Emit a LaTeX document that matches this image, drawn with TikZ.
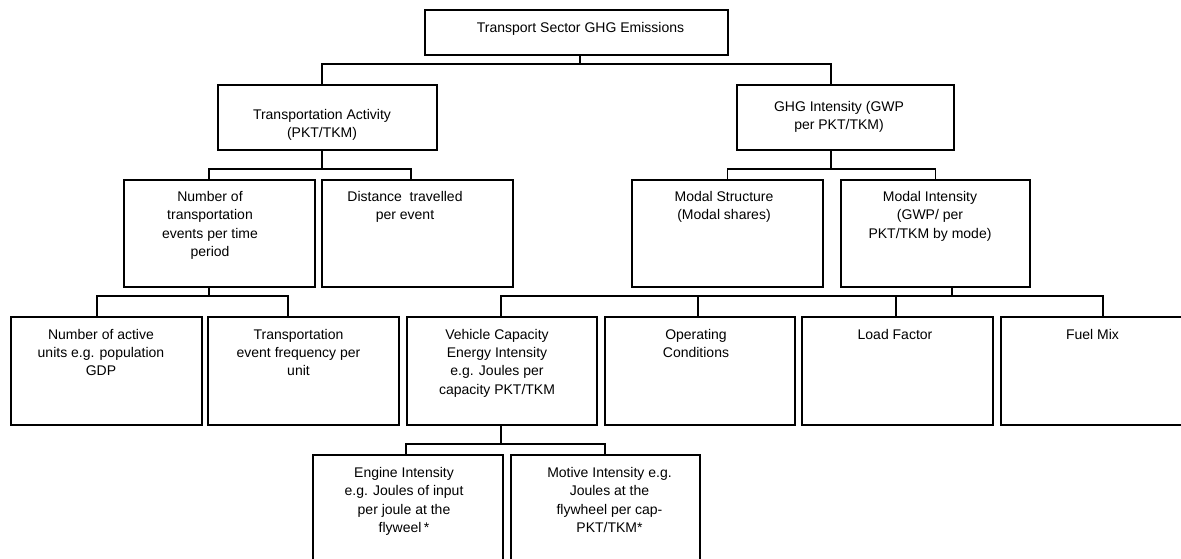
\documentclass[tikz,border=0pt]{standalone}
\usepackage{fontspec}
\setmainfont{Liberation Sans}
\newcommand\mkbox[5]{\node[box, minimum width=#4pt, minimum height=#5pt] (#1) at (#2,#3) {};}
\begin{document}
\begin{tikzpicture}[x=1pt,y=-1pt,
  box/.style={draw, line width=1.5pt, rectangle, inner sep=0pt, outer sep=0pt},
  txt/.style={anchor=north, inner sep=0pt, outer sep=0pt, align=center, font=\fontsize{14}{18.3}\selectfont},
  conn/.style={line width=1.5pt}]
\useasboundingbox (0,0) rectangle (1181,558);
% boxes
\mkbox{top}{576.5}{32.5}{303}{45}
\mkbox{ta}{327.5}{117.5}{219}{65}
\mkbox{ghg}{845.5}{117.5}{217}{65}
\mkbox{num}{219.5}{233.5}{191}{107}
\mkbox{dist}{417.5}{233.5}{191}{107}
\mkbox{ms}{727.5}{233.5}{191}{107}
\mkbox{mi}{935.5}{233.5}{189}{107}
\mkbox{na}{106.5}{371}{191}{108}
\mkbox{tf}{303.5}{371}{191}{108}
\mkbox{vc}{502}{371}{190}{108}
\mkbox{oc}{700}{371}{190}{108}
\mkbox{lf}{897.5}{371}{191}{108}
\mkbox{fm}{1096.5}{371}{191}{108}
\mkbox{ei}{408}{527.5}{190}{145}
\mkbox{mo}{605.5}{527.5}{189}{145}
% texts
\node[txt] (t-top) at (580.5,22) {Transport Sector GHG Emissions};
\node[txt] (t-ta) at (322,109.5) {Transportation Activity\\(PKT/TKM)};
\node[txt] (t-ghg) at (839,101.5) {GHG Intensity (GWP\\per PKT/TKM)};
\node[txt] (t-num) at (210,191.5) {Number of\\transportation\\events per time\\period};
\node[txt] (t-dist) at (405,191.5) {Distance\ \ travelled\\per event};
\node[txt] (t-ms) at (724,191.5) {Modal Structure\\(Modal shares)};
\node[txt] (t-mi) at (930,191.5) {Modal Intensity\\(GWP/ per\\PKT/TKM by mode)};
\node[txt] (t-na) at (101,329) {Number of active\\units e.g. population\\GDP};
\node[txt] (t-tf) at (298.5,329) {Transportation\\event frequency per\\unit};
\node[txt] (t-vc) at (497,329) {Vehicle Capacity\\Energy Intensity\\e.g. Joules per\\capacity PKT/TKM};
\node[txt] (t-oc) at (696,329) {Operating\\Conditions};
\node[txt] (t-lf) at (895,329) {Load Factor};
\node[txt] (t-fm) at (1092.5,329) {Fuel Mix};
\node[txt] (t-ei) at (404,467.5) {Engine Intensity\\e.g. Joules of input\\per joule at the\\flyweel\,*};
\node[txt] (t-mo) at (609.5,467.5) {Motive Intensity e.g.\\Joules at the\\flywheel per cap-\\PKT/TKM*};
% junctions
\coordinate (j1) at (580,64);
\coordinate (j2) at (322,169);
\coordinate (j3) at (831,169);
\coordinate (j4) at (209,296);
\coordinate (j5) at (952,296);
\coordinate (j6) at (501,444);
% connectors
\draw[conn] ([xshift=3.5pt]top.south) -- (j1);
\draw[conn] ([xshift=-5.5pt]ta.north) |- (j1) -| ([xshift=-14.5pt]ghg.north);
\draw[conn] ([xshift=-5.5pt]ta.south) -- (j2);
\draw[conn] ([xshift=-10.5pt]num.north) |- (j2) -| ([xshift=-6.5pt]dist.north);
\draw[conn] ([xshift=-14.5pt]ghg.south) -- (j3);
\draw[conn] (ms.north) |- (j3) -| (mi.north);
\draw[conn] ([xshift=-10.5pt]num.south) -- (j4);
\draw[conn] ([xshift=-9.5pt]na.north) |- (j4) -| ([xshift=-15.5pt]tf.north);
\draw[conn] ([xshift=16.5pt]mi.south) -- (j5);
\draw[conn] ([xshift=-1pt]vc.north) |- (j5) -| ([xshift=6.5pt]fm.north);
\draw[conn] ([xshift=-2pt]oc.north) -- ([xshift=-2pt]oc.north |- j5);
\draw[conn] ([xshift=-1.5pt]lf.north) -- ([xshift=-1.5pt]lf.north |- j5);
\draw[conn] ([xshift=-1pt]vc.south) -- (j6);
\draw[conn] ([xshift=-2pt]ei.north) |- (j6) -| ([xshift=-0.5pt]mo.north);
\end{tikzpicture}
\end{document}
